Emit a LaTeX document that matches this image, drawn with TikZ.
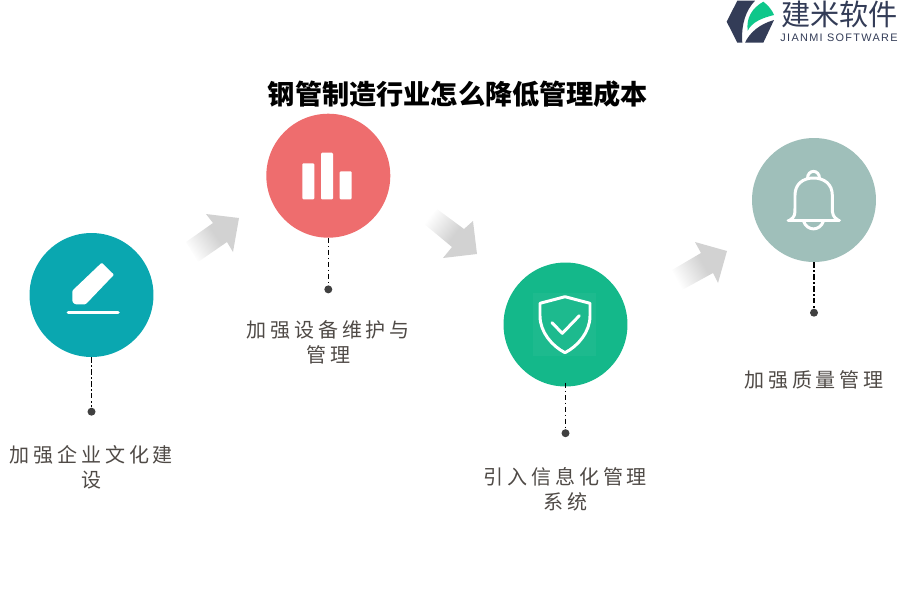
\documentclass[tikz,border=0pt]{standalone}
\usepackage{fontspec}
\usetikzlibrary{positioning}
\newfontfamily\cjk{Noto Sans CJK SC}
\newfontfamily\cjkwide[LetterSpace=19]{Noto Sans CJK SC}
\newfontfamily\logosans[LetterSpace=12]{Liberation Sans}
\definecolor{tealc}{HTML}{0AA7B0}
\definecolor{redc}{HTML}{EE6D6E}
\definecolor{greenc}{HTML}{14B88A}
\definecolor{sagec}{HTML}{9FBFBA}
\definecolor{dotc}{HTML}{404040}
\definecolor{labelc}{HTML}{4F4A46}
\definecolor{navyc}{HTML}{333C57}
\definecolor{leafc}{HTML}{0EC78A}
\definecolor{arrowc}{HTML}{D2D2D2}
\pgfdeclareverticalshading{arrowfade}{100bp}{color(0bp)=(arrowc); color(46bp)=(arrowc); color(76bp)=(white); color(100bp)=(white)}
\tikzset{
	disc/.style={circle, inner sep=0pt, minimum size=2.48cm},
	dotn/.style={circle, fill=dotc, inner sep=0pt, minimum size=.16cm},
	stem/.style={line width=.6pt, dash pattern=on 3pt off 1.5pt on .8pt off 1.5pt},
	caption/.style={align=center, text=labelc, inner sep=0pt, font={\cjkwide\fontsize{11.4pt}{14.2pt}\selectfont}},
	icon/.style={draw=white, line width=1.7pt, line join=round, line cap=round},
	fade/.style={shade, shading=arrowfade, shading angle=#1},
}
\begin{document}
\begin{tikzpicture}[x=.02cm, y=-.02cm]
	\useasboundingbox (0,0) rectangle (900,600);
	% title
	\node[font={\cjk\bfseries\fontsize{15.45pt}{18pt}\selectfont}] (title) at (458,94) {钢管制造行业怎么降低管理成本};
	% logo
	\fill[navyc] (726.7,21.7) -- (737.3,.7) -- (755,.7) .. controls (746,10) and (741,24) .. (742.3,42.7) -- (737.3,42.7) -- cycle;
	\fill[leafc] (763.3,1.7) .. controls (768,5) and (772,10) .. (774,15) .. controls (762,18) and (752,22) .. (747.7,30.7) .. controls (746,18) and (752,8) .. (763.3,1.7) -- cycle;
	\fill[navyc] (774,20) -- (763.3,42.7) -- (745,42.7) .. controls (750,32) and (760,24) .. (774,20) -- cycle;
	\node[text=navyc, font={\cjk\fontsize{16.6pt}{18pt}\selectfont}] (brand) at (839.5,14) {建米软件};
	\node[text=navyc, font={\logosans\fontsize{6.2pt}{8pt}\selectfont}] (brandt) at (839,38) {JIANMI SOFTWARE};
	% circles
	\node[disc, fill=tealc] (write) at (91.5,295) {};
	\node[disc, fill=redc] (chart) at (328.3,175.7) {};
	\node[disc, fill=greenc] (shield) at (565.5,324.5) {};
	\node[disc, fill=sagec] (bell) at (814,200) {};
	% dots and stems
	\node[dotn, below=1cm of write] (writed) {};
	\node[dotn, below=.94cm of chart] (chartd) {};
	\node[dotn, below=.84cm of shield] (shieldd) {};
	\node[dotn, below=.92cm of bell] (belld) {};
	\draw[stem] (write.south) -- (writed);
	\draw[stem] (chart.south) -- (chartd);
	\draw[stem] ([yshift=.08cm]shield.south) -- (shieldd);
	\draw[stem] (bell.south) -- (belld);
	% labels
	\node[caption, below=.58cm of writed] (writet) {加强企业文化建\\设};
	\node[caption, below=.54cm of chartd] (chartt) {加强设备维护与\\管理};
	\node[caption, below=.6cm of shieldd] (shieldt) {引入信息化管理\\系统};
	\node[caption, below=1.06cm of belld] (bellt) {加强质量管理};
	% arrows
	\path[fade=125] (186,242) -- (213,223) -- (206,214) -- (239,218) -- (233,252) -- (227,242) -- (198,262) -- cycle;
	\path[fade=53] (437,209) -- (464,229) -- (473,221) -- (477,254) -- (443,258) -- (452,247) -- (423,223) -- cycle;
	\path[fade=120] (672,270) -- (701,253) -- (695,242) -- (727,251) -- (718,283) -- (713,273) -- (682,290) -- cycle;
	% pencil
	\fill[white, rounded corners=.6pt] (101.7,262.7) -- (114,274.7) -- (85.7,304.3) -- (75,304.3) -- (72.3,301.7) -- (72.3,290.7) -- cycle;
	\draw[icon, line width=2pt] (68.3,312.7) -- (118,312.7);
	% bars
	\fill[white, rounded corners=.6pt] (302.3,163.3) rectangle (314.3,199.3);
	\fill[white, rounded corners=.6pt] (321,152.7) rectangle (333,199.3);
	\fill[white, rounded corners=.6pt] (339.7,171.3) rectangle (351.7,199.3);
	% shield
	\fill[white, opacity=.04] (533.3,293.3) rectangle (596,355.7);
	\draw[icon] (565,296.7) -- (540,303.3) -- (540,316) .. controls (540,332) and (552,346) .. (565,352.7) .. controls (578,346) and (590,332) .. (590,316) -- (590,303.3) -- cycle;
	\draw[icon] (552,322.7) -- (562.3,333.3) -- (579.3,315.7);
	% bell
	\draw[icon] (788,220) -- (839.5,220);
	\draw[icon] (790,220) .. controls (795,217) and (795,214) .. (795,208) -- (795,195) .. controls (795,184) and (803,178) .. (813.5,178) .. controls (824,178) and (832.3,184) .. (832.3,195) -- (832.3,208) .. controls (832.3,214) and (833,217) .. (838,220);
	\draw[icon] (807.5,178.5) .. controls (807.5,169) and (819.5,169) .. (819.5,178.5);
	\draw[icon] (803.5,221) .. controls (807,231.5) and (820,231.5) .. (823.5,221);
\end{tikzpicture}
\end{document}
